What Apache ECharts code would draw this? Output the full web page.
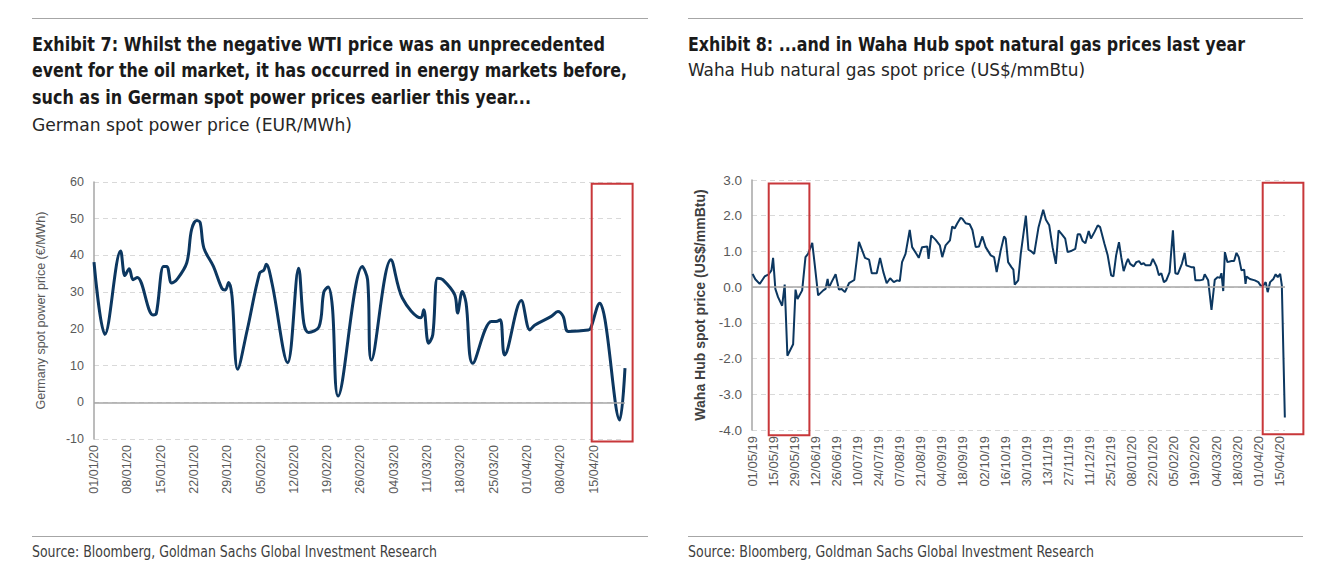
<!DOCTYPE html>
<html>
<head>
<meta charset="utf-8">
<script src="https://cdn.jsdelivr.net/npm/echarts@6/dist/echarts.min.js"></script>
<style>
  html, body { margin: 0; padding: 0; background: #fff; }
  #wrap { position: relative; width: 1341px; height: 574px; overflow: hidden; }
  #chart { position: absolute; left: 0; top: 0; width: 1341px; height: 574px; }
  .t { position: absolute; white-space: nowrap; transform-origin: 0 50%; }
  .title { font-family: 'Liberation Sans Narrow', 'DejaVu Sans Condensed', 'Roboto', sans-serif; font-weight: bold; font-size: 20px; line-height: 20px; color: #1a1a1a; }
  .sub { font-family: 'Liberation Sans Narrow', 'DejaVu Sans Condensed', 'Roboto', sans-serif; font-size: 18px; line-height: 18px; color: #262626; }
  .src { font-family: 'Liberation Sans Narrow', 'DejaVu Sans Condensed', 'Roboto', sans-serif; font-size: 15px; line-height: 15px; color: #404040; }
  .rule { position: absolute; height: 0; border-top: 1.5px solid #a6a6a6; }
</style>
</head>
<body>
<div id="wrap">
  <div id="chart"></div>
  <div class="rule" style="left:32px; width:616px; top:18px;"></div>
  <div class="rule" style="left:688px; width:615px; top:18px;"></div>
  <div class="rule" style="left:32px; width:616px; top:536px;"></div>
  <div class="rule" style="left:688px; width:615px; top:536px;"></div>

  <div class="t title" data-w="573" style="left:32px; top:34px;">Exhibit 7: Whilst the negative WTI price was an unprecedented</div>
  <div class="t title" data-w="595" style="left:32px; top:60px;">event for the oil market, it has occurred in energy markets before,</div>
  <div class="t title" data-w="499" style="left:32px; top:87px;">such as in German spot power prices earlier this year...</div>
  <div class="t sub" data-w="320" style="left:32px; top:116px;">German spot power price (EUR/MWh)</div>

  <div class="t title" data-w="557" style="left:688px; top:34px;">Exhibit 8: ...and in Waha Hub spot natural gas prices last year</div>
  <div class="t sub" data-w="397" style="left:688px; top:61px;">Waha Hub natural gas spot price (US$/mmBtu)</div>

  <div class="t src" data-w="405" style="left:32px; top:545px;">Source: Bloomberg, Goldman Sachs Global Investment Research</div>
  <div class="t src" data-w="406" style="left:688px; top:545px;">Source: Bloomberg, Goldman Sachs Global Investment Research</div>
</div>
<script>
// ---------- DATA ----------
// Exhibit 7: German spot power price (EUR/MWh); x = days since 01/01/2020
const powerDays = [0, 2.3, 5.6, 6.5, 7.4, 8.2, 9.1, 12.4, 13.1, 14.6, 15.3, 16.3, 17.4, 19.5, 20.5, 21.6, 22.3, 23.1,
  25.1, 26.9, 27.6, 28.3, 29.0, 30.2, 32.2, 34.8, 35.7, 36.2, 37.4, 40.7, 43.0, 44.1, 45.1, 47.3, 48.3, 49.2, 50.1,
  51.3, 56.4, 57.5, 58.3, 62.4, 64.8, 68.7, 69.3, 70.3, 71.2, 72.2, 73.3, 75.8, 76.4, 77.4, 78.2, 79.6, 83.5, 84.5,
  85.4, 86.3, 89.8, 91.6, 92.6, 96.1, 97.5, 98.6, 99.7, 103.9, 104.4, 106.3, 107.4, 110.5, 111.6];
const powerVals = [38.2, 18.5, 41.2, 34.5, 36.4, 33.4, 34, 23.8, 24.2, 37, 37, 32.5, 33.4, 38, 47, 49.5, 49, 42,
  37, 31, 30.6, 32.6, 29, 9, 19.7, 35.2, 36, 37.6, 32.5, 10.8, 36.5, 21.5, 19, 20.6, 30, 31.4, 26,
  1.7, 37, 33.4, 11.5, 38.8, 28.4, 23, 25.2, 16.1, 18.4, 33.8, 33.4, 29.3, 24.3, 30.2, 27, 10.6, 22, 22,
  22.5, 12.9, 27.7, 19.7, 21, 23.4, 24.7, 23.4, 19.3, 19.7, 20.2, 27, 22.5, -4.8, 9.3];
const powerYTicks = { min: -10, max: 60, step: 10 };
const powerStart = Date.UTC(2020, 0, 1);
const powerEndDay = 111.6;
const powerBox = { x: [104.6, 113.2], y: [-10.7, 59.5] };

// Exhibit 8: Waha Hub natural gas spot price (US$/mmBtu); x = days since 01/05/2019
const gasDays = [0.4, 2.2, 5.1, 8.4, 11.1, 12.9, 14, 15.5, 17.3, 20, 21.7, 23.5, 27.3, 28.9, 30.2, 33.3, 35.5, 37.3,
  40, 41.7, 43.9, 47.3, 48.8, 50.2, 51, 52.8, 55.5, 57.7, 59.5, 61.7, 64.4, 67.9, 71, 75, 77.7, 79.5, 82.8, 85,
  87.2, 89.4, 91.7, 94.1, 96.3, 98.1, 99.6, 101.9, 104.7, 106.3, 109.2, 110.7, 112.9, 116.3, 117.2, 119, 121.8,
  124.7, 126.3, 128.5, 131.4, 132.9, 134.5, 136.3, 138.5, 139.6, 141.8, 144.5, 146.3, 148.5, 150.7, 152.9, 155.1,
  158.5, 160.7, 162.4, 165.1, 167.3, 168.4, 170, 172.2, 173.5, 174.4, 176.7, 178.4, 181.8, 183.5, 185.1, 187.3,
  190.2, 193.3, 195.1, 197.3, 199.5, 201.7, 203.5, 205.7, 207.9, 209.5, 211.7, 214.6, 216.2, 217.8, 219.5, 221.3,
  223.5, 225, 227.3, 229.5, 231.1, 234, 236.1, 238.4, 239.9, 241.7, 243.6, 245.1, 246.7, 248.4, 249.6, 251, 253.3,
  255.1, 256.9, 258.3, 260, 261.3, 264.4, 266.1, 268.5, 270.1, 271.7, 273.4, 275, 277.2, 279.4, 281, 282.7, 285.4,
  287.2, 288.3, 291.6, 293.4, 294.3, 297.2, 299.4, 300.5, 302.8, 305, 307.2, 309, 310.6, 311.6, 312.8, 313.9,
  315.6, 318.3, 320, 321.6, 323.1, 324.9, 326.7, 327.6, 328.3, 330.5, 333.8, 336.1, 337.8, 339.4, 341, 342.3,
  343.9, 346.1, 347.6, 349, 350.6, 351.7, 353.7];
const gasVals = [0.37, 0.22, 0.09, 0.3, 0.36, 0.47, 0.82, -0.05, -0.28, -0.52, 0.07, -1.92, -1.6, -0.07, -0.33, -0.09, 0.84, 0.94,
  1.24, 0.61, -0.23, -0.09, -0.05, 0.23, -0.02, 0.14, 0.36, -0.07, -0.05, -0.14, 0.11, 0.2, 1.27, 0.82, 0.77, 0.39, 0.39, 0.82,
  0.42, 0.11, 0.25, 0.14, 0.19, 0.17, 0.7, 0.93, 1.6, 1.12, 0.93, 0.82, 1.12, 1.14, 0.79, 1.45, 1.33,
  1.17, 0.84, 1.17, 1.31, 1.7, 1.64, 1.79, 1.94, 1.92, 1.79, 1.76, 1.6, 1.12, 1.14, 1.42, 1.12,
  0.89, 0.84, 0.42, 1.03, 1.42, 1.36, 0.7, 0.56, 0.49, 0.07, 0.19, 0.93, 2.0, 1.05, 1.01, 0.93,
  1.68, 2.17, 1.89, 1.73, 1.12, 0.65, 1.59, 1.48, 1.36, 0.98, 1.01, 1.07, 1.48, 1.48, 1.29, 1.23,
  1.57, 1.36, 1.54, 1.73, 1.68, 1.21, 0.89, 0.33, 0.3, 0.89, 1.26, 0.84, 0.45, 0.67, 0.79, 0.65, 0.58,
  0.7, 0.73, 0.64, 0.67, 0.61, 0.61, 0.79, 0.58, 0.33, 0.39, 0.14, 0.19, 0.42, 1.59, 0.39, 0.37, 0.66,
  0.96, 0.61, 0.56, 0.56, 0.19, 0.19, 0.21, 0.36, 0.19, -0.64, 0.21, 0.28, 0.26, 0.39, -0.11, 0.98,
  0.7, 0.73, 0.73, 0.96, 0.84, 0.47, 0.49, 0.09, 0.3, 0.23, 0.19, 0.14, 0.03, 0.05, 0.14, -0.14,
  0.14, 0.23, 0.36, 0.28, 0.37, 0.05, -3.65];
const gasYTicks = { min: -4, max: 3, step: 1 };
const gasStart = Date.UTC(2019, 4, 1);
const gasEndDay = 353.8;
const gasBoxes = [{ x: [11.1, 38.1], y: [-4.15, 2.9] }, { x: [339, 366], y: [-4.12, 2.92] }];

// ---------- HELPERS ----------
function pad(n) { return (n < 10 ? '0' : '') + n; }
function dayLabel(start) {
  return function (v) {
    const d = new Date(start + Math.round(v) * 86400000);
    return pad(d.getUTCDate()) + '/' + pad(d.getUTCMonth() + 1) + '/' + String(d.getUTCFullYear()).slice(2);
  };
}
function zip(a, b) { return a.map((x, i) => [x, b[i]]); }

const LINE = '#0c3760';
const GRAY = '#595959';
const AXISGRAY = '#a6a6a6';
const FONT = "'Liberation Sans', Arial, sans-serif";

const chart = echarts.init(document.getElementById('chart'), null, { renderer: 'svg' });

function xAxisCfg(gridIndex, maxDay, start, size) {
  return {
    type: 'value', gridIndex: gridIndex, min: 0, max: maxDay, interval: 7 * (gridIndex === 0 ? 1 : 2),
    axisLine: { show: false }, axisTick: { show: false }, splitLine: { show: false },
    axisLabel: { rotate: 90, margin: 6, color: GRAY, fontSize: size, fontFamily: FONT,
      showMaxLabel: false, formatter: dayLabel(start) }
  };
}
function yAxisCfg(gridIndex, t, name, nameCfg, dec) {
  return {
    type: 'value', gridIndex: gridIndex, min: t.min, max: t.max, interval: t.step,
    name: name, nameLocation: 'middle', nameRotate: 90, nameGap: nameCfg.gap,
    nameTextStyle: { color: nameCfg.color, fontSize: nameCfg.size, fontWeight: nameCfg.weight, fontFamily: FONT },
    axisLine: { show: true, lineStyle: { color: AXISGRAY, width: 1.5 } },
    axisTick: { show: false },
    axisLabel: { color: GRAY, fontSize: nameCfg.labelSize, fontFamily: FONT, margin: 10,
      formatter: v => dec ? v.toFixed(1) : String(v) },
    splitLine: { show: true, lineStyle: { color: '#d9d9d9', type: [5, 4], width: 1 } }
  };
}
function zeroLine() {
  return { silent: true, symbol: 'none', label: { show: false },
    lineStyle: { color: AXISGRAY, type: 'solid', width: 1.5 }, data: [{ yAxis: 0 }] };
}

chart.setOption({
  animation: false,
  grid: [
    { left: 94, right: 716, top: 182, bottom: 135 },
    { left: 752, right: 56, top: 180, bottom: 144 }
  ],
  xAxis: [xAxisCfg(0, powerEndDay, powerStart, 12.5), xAxisCfg(1, gasEndDay, gasStart, 13)],
  yAxis: [
    yAxisCfg(0, powerYTicks, 'Germany spot power price (€/MWh)', { gap: 47, color: GRAY, size: 12.5, weight: 'normal', labelSize: 12.5 }, false),
    yAxisCfg(1, gasYTicks, 'Waha Hub spot price (US$/mmBtu)', { gap: 45, color: '#404040', size: 14, weight: 'bold', labelSize: 13.5 }, true)
  ],
  series: [
    { type: 'line', xAxisIndex: 0, yAxisIndex: 0, data: zip(powerDays, powerVals), smooth: 0.35,
      showSymbol: false, lineStyle: { color: LINE, width: 3 }, markLine: zeroLine(), z: 3 },
    { type: 'line', xAxisIndex: 1, yAxisIndex: 1, data: zip(gasDays, gasVals), smooth: false,
      showSymbol: false, lineStyle: { color: LINE, width: 2 }, markLine: zeroLine(), z: 3 }
  ]
});

// red highlight boxes, positioned through the axes' own scales
function boxRect(gridIdx, b) {
  const p1 = chart.convertToPixel({ xAxisIndex: gridIdx, yAxisIndex: gridIdx }, [b.x[0], b.y[1]]);
  const p2 = chart.convertToPixel({ xAxisIndex: gridIdx, yAxisIndex: gridIdx }, [b.x[1], b.y[0]]);
  return { type: 'rect', silent: true, z: 10,
    shape: { x: p1[0], y: p1[1], width: p2[0] - p1[0], height: p2[1] - p1[1] },
    style: { fill: 'none', stroke: '#c8373a', lineWidth: 2 } };
}
chart.setOption({ graphic: [boxRect(0, powerBox)].concat(gasBoxes.map(b => boxRect(1, b))) });

// fit header/footer lines to their widths
document.querySelectorAll('.t').forEach(el => {
  const target = parseFloat(el.getAttribute('data-w'));
  const w = el.getBoundingClientRect().width;
  if (w > 0) el.style.transform = 'scaleX(' + (target / w).toFixed(4) + ')';
});
</script>
</body>
</html>
